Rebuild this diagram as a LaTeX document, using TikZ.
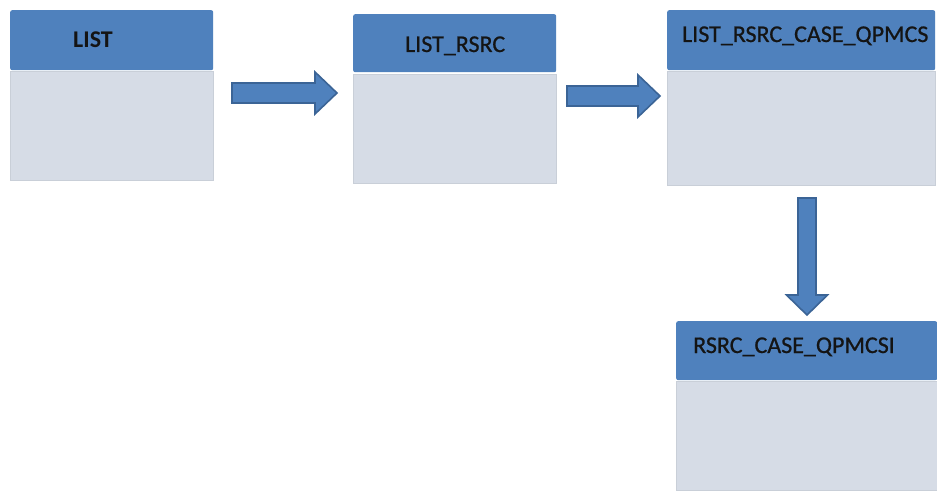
\documentclass[tikz,border=0pt]{standalone}
\usepackage{fontspec}
\setmainfont{Carlito}
\newfontfamily\headingfont[FakeBold=0.8]{Carlito}
\usetikzlibrary{calc}
\definecolor{hdrblue}{HTML}{4F81BD}
\definecolor{bodyblue}{HTML}{D6DCE6}
\definecolor{arrowedge}{HTML}{3B6496}
\definecolor{txt}{HTML}{141414}
\tikzset{
  header/.style={fill=hdrblue, draw=none, rounded corners=2pt, anchor=north west, inner sep=0pt},
  tablebody/.style={fill=bodyblue, draw=bodyblue!94!black, line width=0.4pt, anchor=north west, inner sep=0pt},
  title/.style={text=txt, anchor=base west, inner sep=0pt, font=\headingfont\fontsize{24}{28}\selectfont},
  blockarrow/.style={fill=hdrblue, draw=arrowedge, line width=1.6pt, line join=miter},
  harrow/.style={to path={let \p1=(\tikztostart), \p2=(\tikztotarget) in
    (\x1,\y1+10pt) -- (\x2-22pt,\y1+10pt) -- (\x2-22pt,\y1+21pt) -- (\x2,\y2)
    -- (\x2-22pt,\y1-21pt) -- (\x2-22pt,\y1-10pt) -- (\x1,\y1-10pt) -- cycle}},
  varrow/.style={to path={let \p1=(\tikztostart), \p2=(\tikztotarget) in
    (\x1-9pt,\y1) -- (\x1-9pt,\y2+20pt) -- (\x1-20.5pt,\y2+20pt) -- (\x2,\y2)
    -- (\x1+20.5pt,\y2+20pt) -- (\x1+9pt,\y2+20pt) -- (\x1+9pt,\y1) -- cycle}}
}
\begin{document}
\begin{tikzpicture}[x=1pt, y=-1pt]
  \fill[white] (0,0) rectangle (937,492);
  \useasboundingbox (0,0) rectangle (937,492);

  % table LIST
  \node[tablebody, minimum width=203, minimum height=109] (body1) at (10,71) {};
  \node[header, minimum width=203, minimum height=60] (head1) at (10,10) {};
  \node[title, font=\bfseries\fontsize{24}{28}\selectfont] (name1) at (73,48) {LIST};

  % table LIST_RSRC
  \node[tablebody, minimum width=203, minimum height=109] (body2) at (353,74) {};
  \node[header, minimum width=203, minimum height=58] (head2) at (353,14) {};
  \node[title] (name2) at (405,52) {LIST\_RSRC};

  % table LIST_RSRC_CASE_QPMCS
  \node[tablebody, minimum width=268, minimum height=114] (body3) at (667,71) {};
  \node[header, minimum width=268, minimum height=60] (head3) at (667,10) {};
  \node[title] (name3) at (682,42) {LIST\_RSRC\_CASE\_QPMCS};

  % table RSRC_CASE_QPMCSI
  \node[tablebody, minimum width=261, minimum height=109] (body4) at (676,381) {};
  \node[header, minimum width=261, minimum height=59] (head4) at (676,321) {};
  \node[title] (name4) at (693,353) {RSRC\_CASE\_QPMCSI};

  % block arrows between the tables
  \coordinate (a1s) at (232,93);
  \coordinate (a1e) at (337,93);
  \coordinate (a2s) at (567,96);
  \coordinate (a2e) at (660,96);
  \coordinate (a3s) at (807,198);
  \coordinate (a3e) at (807,315);
  \draw[blockarrow] (a1s) to[harrow] (a1e);
  \draw[blockarrow] (a2s) to[harrow] (a2e);
  \draw[blockarrow] (a3s) to[varrow] (a3e);
\end{tikzpicture}
\end{document}
